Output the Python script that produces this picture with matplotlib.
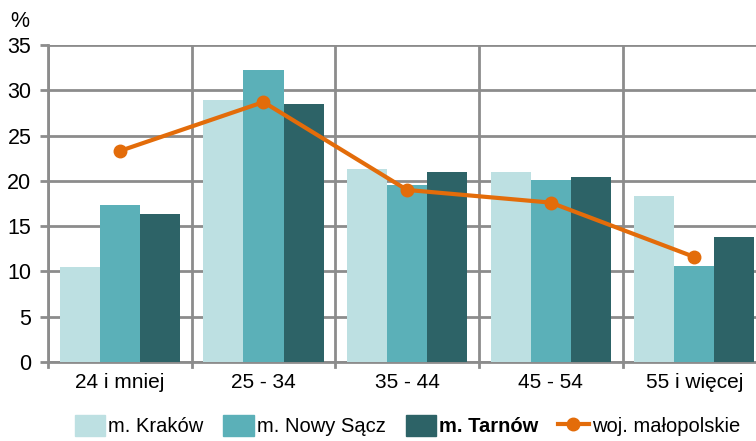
import matplotlib.pyplot as plt
import numpy as np
from matplotlib.patches import Patch
from matplotlib.lines import Line2D

plt.rcParams['font.family'] = ['Liberation Sans', 'DejaVu Sans']

# dane
kategorie = ["24 i mniej", "25 - 34", "35 - 44", "45 - 54", "55 i więcej"]
krakow = [10.5, 28.9, 21.3, 21.0, 18.3]
nowy_sacz = [17.3, 32.2, 19.5, 20.1, 10.6]
tarnow = [16.3, 28.5, 21.0, 20.4, 13.8]
malopolskie = [23.3, 28.7, 19.0, 17.6, 11.6]

c_krk = '#BDE0E2'
c_ns = '#5BB0B8'
c_tar = '#2D6367'
c_woj = '#E36C0A'
c_grid = '#8C8C8C'

fig = plt.figure(figsize=(7.56, 4.41), dpi=100)
ax = fig.add_axes([0.0635, 0.179, 0.95, 0.719])

x = np.arange(len(kategorie))
w = 0.279
ax.bar(x - w, krakow, w, color=c_krk, zorder=3)
ax.bar(x, nowy_sacz, w, color=c_ns, zorder=3)
ax.bar(x + w, tarnow, w, color=c_tar, zorder=3)
ax.plot(x, malopolskie, color=c_woj, lw=3, marker='o', ms=9, zorder=4)

ax.set_xlim(-0.5, 4.5)
ax.set_ylim(0, 35)
ax.set_yticks(range(0, 36, 5))
ax.set_xticks(x)
ax.set_xticklabels(kategorie, fontsize=15)
ax.tick_params(axis='y', labelsize=15.5, length=6, width=2, color=c_grid, pad=6)
ax.tick_params(axis='x', length=0, pad=8)

# siatka
ax.grid(axis='y', color=c_grid, lw=2, zorder=0)
for b in np.arange(-0.5, 5.0, 1.0):
    ax.axvline(b, color=c_grid, lw=2, zorder=1)
    ax.plot([b, b], [0, -0.6], color=c_grid, lw=2, clip_on=False, zorder=1)
for s in ax.spines.values():
    s.set_visible(False)
for k in ['bottom', 'left']:
    ax.spines[k].set_visible(True)
    ax.spines[k].set_color(c_grid)
    ax.spines[k].set_linewidth(2)

fig.text(0.014, 0.952, '%', fontsize=15.5, ha='left', va='center')

# legenda
uchwyty = [Patch(color=c_krk), Patch(color=c_ns), Patch(color=c_tar),
           Line2D([0], [0], color=c_woj, lw=3, marker='o', ms=9)]
etykiety = ['m. Kraków', 'm. Nowy Sącz', 'm. Tarnów', 'woj. małopolskie']
leg = fig.legend(uchwyty, etykiety, loc='lower left', bbox_to_anchor=(0.075, -0.03),
                 ncol=4, frameon=False, fontsize=14.5, handlelength=1.5,
                 handleheight=1.2, handletextpad=0.15, columnspacing=1.0)
leg.get_texts()[2].set_fontweight('bold')

fig.savefig('out.png', dpi=100)
